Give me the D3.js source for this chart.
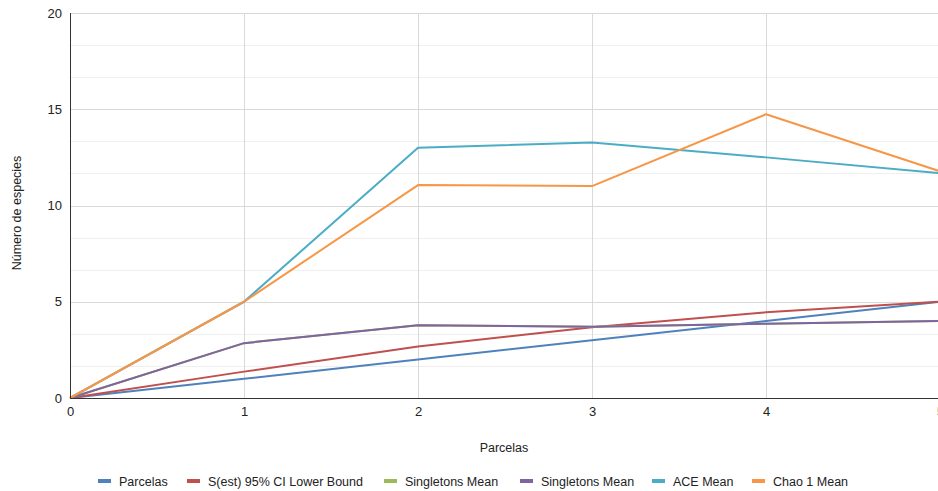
<!DOCTYPE html>
<html><head><meta charset="utf-8">
<script src="https://cdn.jsdelivr.net/npm/d3@7"></script>
<style>body{margin:0;background:#fff}svg{display:block;font-family:"Liberation Sans",Arial,sans-serif}</style>
</head><body><svg id="c" width="938" height="491"></svg>
<script>
const xValues = [0, 1, 2, 3, 4, 5];
const parcelas = [0, 1, 2, 3, 4, 5];
const sestLower = [0, 1.37, 2.67, 3.68, 4.45, 5.0];
const singletonsA = [0, 2.85, 3.78, 3.7, 3.86, 4.0];
const singletonsB = [0, 2.85, 3.78, 3.7, 3.86, 4.0];
const aceMean = [0, 5, 13.0, 13.27, 12.5, 11.68];
const chaoMean = [0, 5, 11.06, 11.01, 14.74, 11.78];
const seriesNames = ["Parcelas", "S(est) 95% CI Lower Bound", "Singletons Mean", "Singletons Mean", "ACE Mean", "Chao 1 Mean"];
const seriesColors = ["#4F81BD", "#C0504D", "#9BBB59", "#8064A2", "#4BACC6", "#F79646"];
const yTicks = [0, 5, 10, 15, 20];
const seriesValues = [parcelas, sestLower, singletonsA, singletonsB, aceMean, chaoMean];

(function () {
const svg = d3.select("#c");
const pL = 70, pR = 940, pT = 13, pB = 398;
const x = d3.scaleLinear().domain([0, 5]).range([pL, pR]);
const y = d3.scaleLinear().domain([0, 20]).range([pB, pT]);

// minor gridlines
const minor = d3.range(0, 20.001, 5/3).filter(v => Math.abs(v/5 - Math.round(v/5)) > 1e-6);
svg.append("g").selectAll("line").data(minor).join("line")
  .attr("x1", pL).attr("x2", 938).attr("y1", d => Math.round(y(d)) + 0.5).attr("y2", d => Math.round(y(d)) + 0.5)
  .attr("stroke", "#efefef").attr("stroke-width", 1);
// major horizontal gridlines
svg.append("g").selectAll("line").data(yTicks.slice(1)).join("line")
  .attr("x1", pL).attr("x2", 938).attr("y1", d => Math.round(y(d)) + 0.5).attr("y2", d => Math.round(y(d)) + 0.5)
  .attr("stroke", "#d9d9d9").attr("stroke-width", 1);
// vertical gridlines
svg.append("g").selectAll("line").data(xValues.slice(1)).join("line")
  .attr("y1", pT).attr("y2", pB).attr("x1", d => Math.round(x(d)) + 0.5).attr("x2", d => Math.round(x(d)) + 0.5)
  .attr("stroke", "#d9d9d9").attr("stroke-width", 1);

// axes
const yAxis = d3.axisLeft(y).tickValues(yTicks).tickSize(0).tickPadding(8);
const gy = svg.append("g").attr("transform", `translate(${pL},0)`).call(yAxis);
gy.select(".domain").remove();
gy.selectAll("text").attr("font-size", 13).attr("fill", "#222").attr("font-family", "Liberation Sans, Arial, sans-serif");
const xAxis = d3.axisBottom(x).tickValues(xValues).tickFormat(d3.format("d")).tickSize(0).tickPadding(9);
const gx = svg.append("g").attr("transform", `translate(0,${pB})`).call(xAxis);
gx.select(".domain").remove();
gx.selectAll("text").attr("font-size", 13).attr("fill", "#222").attr("font-family", "Liberation Sans, Arial, sans-serif");

// lines
const line = d3.line().x((d, i) => x(xValues[i])).y(d => y(d));
seriesValues.forEach((vals, i) => {
  svg.append("path").datum(vals).attr("d", line).attr("fill", "none")
    .attr("stroke", seriesColors[i]).attr("stroke-width", 2).attr("stroke-linejoin", "round");
});

// axis lines
svg.append("line").attr("x1", pL + 0.5).attr("x2", pL + 0.5).attr("y1", pT).attr("y2", pB + 1).attr("stroke", "#333").attr("stroke-width", 1);
svg.append("line").attr("x1", pL).attr("x2", 938).attr("y1", pB + 0.5).attr("y2", pB + 0.5).attr("stroke", "#333").attr("stroke-width", 1);

// titles
svg.append("text").attr("x", 504).attr("y", 452).attr("text-anchor", "middle").attr("font-size", 12.5).attr("fill", "#222").text("Parcelas");
svg.append("text").attr("transform", "translate(21,213) rotate(-90)").attr("text-anchor", "middle").attr("font-size", 12.5).attr("fill", "#222").text("Número de especies");

// legend
const legendX = [98, 187, 384, 520, 652, 752];
const lg = svg.append("g");
seriesNames.forEach((n, i) => {
  lg.append("rect").attr("x", legendX[i]).attr("y", 479).attr("width", 13).attr("height", 4).attr("fill", seriesColors[i]);
  lg.append("text").attr("x", legendX[i] + 21).attr("y", 485.5).attr("font-size", 12.5).attr("fill", "#222").text(n);
});
})();
</script></body></html>
